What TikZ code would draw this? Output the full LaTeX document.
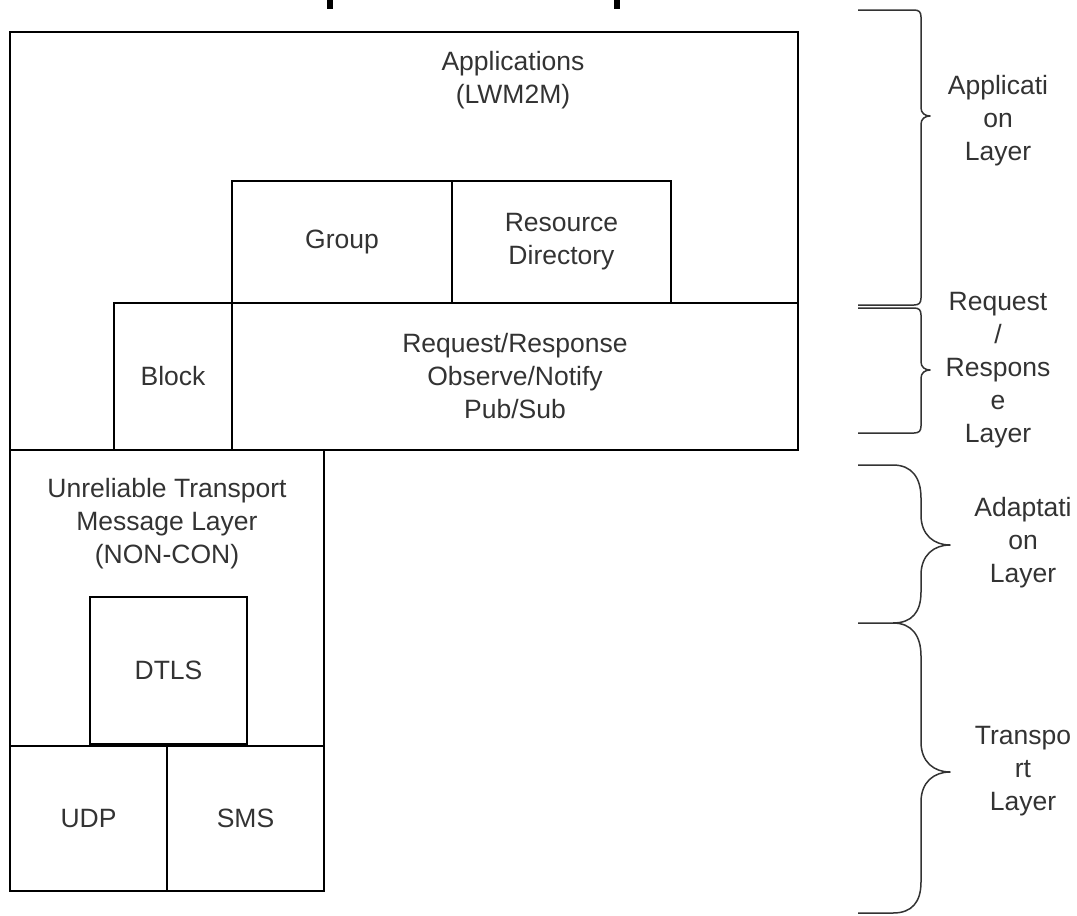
\documentclass[tikz,border=0pt]{standalone}
\usepackage{fontspec}
\setmainfont{Liberation Sans}
\definecolor{txtgray}{HTML}{333333}
\begin{document}
\begin{tikzpicture}[x=1pt, y=-1pt]
		\tikzset{box/.style={rectangle, draw=black, line width=1.6pt, inner sep=0pt, text=txtgray, align=center, font=\fontsize{26.5}{33}\selectfont},
		txt/.style={inner sep=0pt, text=txtgray, align=center, font=\fontsize{26.5}{33}\selectfont},
		brc/.style={draw=txtgray, line width=1.5pt, line join=round}};

		\useasboundingbox (0,0) rectangle (1077,916);

		% cut marks at the top
		\draw[line width=6pt] (330,0) -- (330,9);
		\draw[line width=6pt] (617,0) -- (617,9);

		% boxes
		\node[box, minimum width=788, minimum height=418] (app) at (404,241) {};
		\node[txt] (apptxt) at (513,80) {Applications\\(LWM2M)};
		\node[box, minimum width=220, minimum height=122] (grp) at (342,242) {Group};
		\node[box, minimum width=219, minimum height=122] (rd) at (561.5,242) {Resource\\Directory};
		\node[box, minimum width=118, minimum height=147] (blk) at (173,376.5) {Block};
		\node[box, minimum width=566, minimum height=147] (req) at (515,376.5) {Request/Response\\Observe/Notify\\Pub/Sub};
		\node[box, minimum width=314, minimum height=296] (msg) at (167,598) {};
		\node[txt] (msgtxt) at (167,524) {Unreliable Transport\\Message Layer\\(NON-CON)};
		\node[box, minimum width=157, minimum height=147] (dtls) at (168.5,670.5) {DTLS};
		\node[box, minimum width=157, minimum height=145] (udp) at (88.5,818.5) {UDP};
		\node[box, minimum width=157, minimum height=145] (sms) at (245.5,818.5) {SMS};

		% braces
		\coordinate (b1a) at (858,10);
		\coordinate (b1t) at (930,116);
		\coordinate (b1b) at (858,305);
		\draw[brc] (b1a) -- (914,10) .. controls (919,10) and (921,12) .. (921,17) -- (921,108) .. controls (921,113) and (925,116) .. (b1t) .. controls (925,116) and (921,119) .. (921,124) -- (921,298) .. controls (921,303) and (919,305) .. (914,305) -- (b1b);

		\coordinate (b2a) at (858,308);
		\coordinate (b2t) at (930,370);
		\coordinate (b2b) at (858,433);
		\draw[brc] (b2a) -- (914,308) .. controls (919,308) and (921,310) .. (921,315) -- (921,362) .. controls (921,367) and (925,370) .. (b2t) .. controls (925,370) and (921,373) .. (921,378) -- (921,426) .. controls (921,431) and (919,433) .. (914,433) -- (b2b);

		\coordinate (b3a) at (858,465);
		\coordinate (b3t) at (950,545);
		\coordinate (b3b) at (858,623);
		\draw[brc] (b3a) -- (893,465) .. controls (912,465) and (921,478) .. (921,498) -- (921,515) .. controls (921,535) and (934,545) .. (b3t) .. controls (934,545) and (921,555) .. (921,575) -- (921,592) .. controls (921,612) and (912,623) .. (893,623) -- (b3b);

		\coordinate (b4t) at (950,772);
		\coordinate (b4b) at (858,913);
		\draw[brc] (893,623) .. controls (912,623) and (921,636) .. (921,656) -- (921,742) .. controls (921,762) and (934,772) .. (b4t) .. controls (934,772) and (921,782) .. (921,802) -- (921,882) .. controls (921,902) and (912,913) .. (893,913) -- (b4b);

		% layer names
		\node[txt] (l1) at (998,121) {Applicati\\on\\Layer};
		\node[txt] (l2) at (998,370) {Request\\/\\Respons\\e\\Layer};
		\node[txt] (l3) at (1023,543) {Adaptati\\on\\Layer};
		\node[txt] (l4) at (1023,771) {Transpo\\rt\\Layer};

	\end{tikzpicture}
\end{document}
